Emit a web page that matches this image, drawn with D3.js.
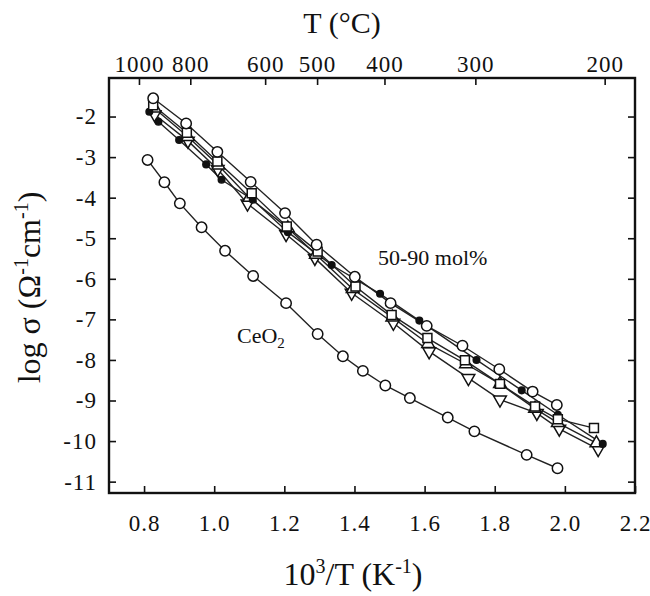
<!DOCTYPE html>
<html>
<head>
<meta charset="utf-8">
<script src="https://cdn.jsdelivr.net/npm/d3@7"></script>
<style>
  body { margin: 0; background: #fff; }
  svg { display: block; font-family: "Liberation Serif", "Times New Roman", serif; }
</style>
</head>
<body>
<div id="chart"></div>
<script>
// ---- data ----
const bottomTicks = [0.8, 1.0, 1.2, 1.4, 1.6, 1.8, 2.0, 2.2];
const leftTicks = [-2, -3, -4, -5, -6, -7, -8, -9, -10, -11];
const topTempsC = [1000, 800, 600, 500, 400, 300, 200];

const ceo2 = [
  [0.810, -3.07], [0.858, -3.62], [0.902, -4.14], [0.964, -4.73], [1.031, -5.31],
  [1.111, -5.93], [1.205, -6.60], [1.295, -7.36], [1.367, -7.91], [1.424, -8.27],
  [1.488, -8.63], [1.558, -8.94], [1.666, -9.42], [1.742, -9.76], [1.891, -10.34],
  [1.979, -10.67]
];

const openCircles = [
  [0.826, -1.55], [0.920, -2.17], [1.009, -2.87], [1.104, -3.61], [1.202, -4.38],
  [1.292, -5.16], [1.401, -5.95], [1.503, -6.60], [1.606, -7.16], [1.708, -7.65],
  [1.813, -8.23], [1.908, -8.78], [1.977, -9.11]
];
const openSquares = [
  [0.826, -1.72], [0.922, -2.40], [1.009, -3.11], [1.107, -3.89], [1.207, -4.71],
  [1.295, -5.33], [1.403, -6.19], [1.506, -6.89], [1.608, -7.46], [1.715, -8.01],
  [1.815, -8.59], [1.915, -9.15], [1.980, -9.46], [2.083, -9.68]
];
const filledDots = [
  [0.815, -1.88], [0.841, -2.13], [0.900, -2.58], [0.977, -3.18], [1.021, -3.56],
  [1.110, -4.05], [1.210, -4.85], [1.335, -5.66], [1.473, -6.37], [1.585, -7.03],
  [1.748, -8.00], [1.877, -8.75], [1.980, -9.35], [2.108, -10.07]
];
const triDown = [
  [0.830, -1.95], [0.925, -2.60], [1.010, -3.30], [1.095, -4.15], [1.205, -4.90],
  [1.287, -5.49], [1.392, -6.35], [1.511, -7.09], [1.613, -7.79], [1.725, -8.45],
  [1.815, -8.98], [1.920, -9.31], [1.984, -9.70], [2.095, -10.20]
];
const triUp = [
  [0.830, -1.80], [0.925, -2.50], [1.012, -3.20], [1.100, -4.00], [1.210, -4.75],
  [1.290, -5.40], [1.395, -6.25], [1.508, -6.95], [1.610, -7.60], [1.718, -8.10],
  [1.815, -8.59], [1.915, -9.20], [1.980, -9.55], [2.090, -10.05]
];

const series = [
  { values: triDown, symbol: d3.symbolTriangle, size: 70, rotate: 180, fill: "#fff" },
  { values: triUp, symbol: d3.symbolTriangle, size: 70, rotate: 0, fill: "#fff" },
  { values: filledDots, symbol: d3.symbolCircle, size: 34, rotate: 0, fill: "#111" },
  { values: openSquares, symbol: d3.symbolSquare, size: 80, rotate: 0, fill: "#fff" },
  { values: openCircles, symbol: d3.symbolCircle, size: 85, rotate: 0, fill: "#fff" },
  { values: ceo2, symbol: d3.symbolCircle, size: 85, rotate: 0, fill: "#fff" }
];

// ---- layout ----
const width = 650, height = 596;
const mLeft = 109, mRight = 635, mTop = 78, mBottom = 493;
const serif = "'Liberation Serif', 'Times New Roman', serif";

const x = d3.scaleLinear([0.7, 2.2], [mLeft, mRight]);
const y = d3.scaleLinear([-11.28, -1.05], [mBottom, mTop]);

const svg = d3.select("#chart").append("svg")
  .attr("width", width)
  .attr("height", height)
  .attr("font-family", serif);

// serif tick labels instead of d3's default sans-serif
const styleAxis = g => g
  .attr("font-family", serif)
  .attr("font-size", 23)
  .call(g => g.select(".domain").remove())
  .call(g => g.selectAll("text").attr("fill", "#111").attr("letter-spacing", 1));

// axes (ticks point inward)
const tick = 7;
svg.append("g")
  .attr("transform", `translate(0,${mBottom})`)
  .call(d3.axisBottom(x).tickValues(bottomTicks).tickFormat(d3.format(".1f"))
    .tickSizeInner(-tick).tickSizeOuter(0).tickPadding(22))
  .call(styleAxis);

svg.append("g")
  .attr("transform", `translate(${mLeft},0)`)
  .call(d3.axisLeft(y).tickValues(leftTicks).tickFormat(d => String(d))
    .tickSizeInner(-tick).tickSizeOuter(0).tickPadding(12))
  .call(styleAxis);

svg.append("g")
  .attr("transform", `translate(${mRight},0)`)
  .call(d3.axisRight(y).tickValues(leftTicks).tickFormat("")
    .tickSizeInner(-tick).tickSizeOuter(0))
  .call(styleAxis);

svg.append("g")
  .attr("transform", `translate(0,${mTop})`)
  .call(d3.axisTop(x).tickValues(topTempsC.map(t => 1000 / (t + 273.15))).tickFormat((d, i) => topTempsC[i])
    .tickSizeInner(-tick).tickSizeOuter(0).tickPadding(6))
  .call(styleAxis);

svg.selectAll(".tick line").attr("stroke", "#111").attr("stroke-width", 1.6);

// frame
svg.append("rect")
  .attr("x", mLeft).attr("y", mTop)
  .attr("width", mRight - mLeft).attr("height", mBottom - mTop)
  .attr("fill", "none").attr("stroke", "#111").attr("stroke-width", 2.4);

// curves
const line = d3.line().x(d => x(d[0])).y(d => y(d[1]));
const plot = svg.append("g");
plot.selectAll("path.curve")
  .data(series)
  .join("path")
    .attr("class", "curve")
    .attr("d", s => line(s.values))
    .attr("fill", "none")
    .attr("stroke", "#222")
    .attr("stroke-width", 1.4);

series.forEach(s => {
  plot.append("g").selectAll("path")
    .data(s.values)
    .join("path")
      .attr("d", d3.symbol(s.symbol, s.size))
      .attr("transform", d => `translate(${x(d[0])},${y(d[1])}) rotate(${s.rotate})`)
      .attr("fill", s.fill)
      .attr("stroke", "#111")
      .attr("stroke-width", 1.5);
});

// labels
svg.append("text")
  .attr("x", 342).attr("y", 33)
  .attr("text-anchor", "middle")
  .attr("font-size", 30)
  .attr("fill", "#111")
  .text("T (°C)");

const yl = svg.append("text")
  .attr("transform", `translate(40,${(mTop + mBottom) / 2 + 2}) rotate(-90)`)
  .attr("text-anchor", "middle")
  .attr("font-size", 32)
  .attr("fill", "#111");
yl.append("tspan").text("log σ (Ω");
yl.append("tspan").attr("font-size", 20).attr("dy", -12).text("-1");
yl.append("tspan").attr("dy", 12).text("cm");
yl.append("tspan").attr("font-size", 20).attr("dy", -12).text("-1");
yl.append("tspan").attr("dy", 12).text(")");

const xl = svg.append("text")
  .attr("x", 353).attr("y", 585)
  .attr("text-anchor", "middle")
  .attr("font-size", 32)
  .attr("fill", "#111");
xl.append("tspan").text("10");
xl.append("tspan").attr("font-size", 20).attr("dy", -12).text("3");
xl.append("tspan").attr("dy", 12).text("/T (K");
xl.append("tspan").attr("font-size", 20).attr("dy", -12).text("-1");
xl.append("tspan").attr("dy", 12).text(")");

svg.append("text")
  .attr("x", 378).attr("y", 265)
  .attr("font-size", 22)
  .attr("fill", "#111")
  .text("50-90 mol%");

const ce = svg.append("text")
  .attr("x", 237).attr("y", 343)
  .attr("font-size", 22)
  .attr("fill", "#111");
ce.append("tspan").text("CeO");
ce.append("tspan").attr("font-size", 15).attr("dy", 5).text("2");
</script>
</body>
</html>
